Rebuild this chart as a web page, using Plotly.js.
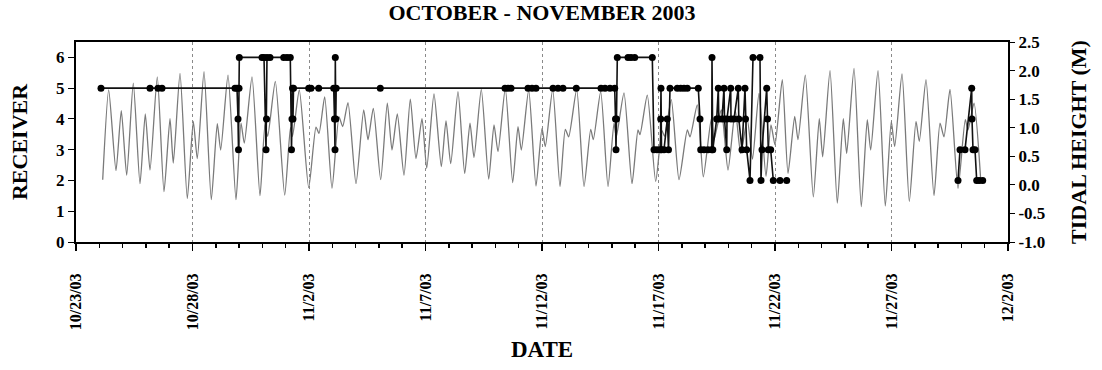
<!DOCTYPE html>
<html>
<head>
<meta charset="utf-8">
<script src="https://cdn.plot.ly/plotly-3.0.1.min.js"></script>
<style>html,body{margin:0;padding:0;background:#fff;}#chart{width:1102px;height:370px;}</style>
</head>
<body>
<div id="chart"></div>
<script>
// ---- DATA (days since 10/23/03 00:00) ----
const tideDay = [1.146,1.403,1.717,1.944,2.176,2.459,2.747,2.974,3.176,3.489,3.777,4.034,4.176,4.464,4.777,5.034,5.206,5.494,5.807,6.064,6.210,6.524,6.867,7.082,7.223,7.554,7.897,8.112,8.227,8.554,8.957,9.206,9.292,9.584,9.987,10.300,10.429,10.674,10.987,11.288,11.446,11.674,12.017,12.348,12.532,12.760,13.077,13.361,13.562,13.790,14.077,14.348,14.592,14.850,15.052,15.365,15.678,15.880,16.082,16.395,16.682,16.910,17.082,17.395,17.712,17.940,18.112,18.425,18.742,18.970,19.112,19.429,19.742,20.000,20.142,20.459,20.773,21.000,21.146,21.489,21.803,22.090,22.202,22.519,22.833,23.090,23.189,23.519,23.863,24.120,24.206,24.519,24.880,25.150,25.258,25.549,25.880,26.236,26.352,26.665,26.923,27.266,27.382,27.695,27.983,28.296,28.528,28.811,29.034,29.313,29.614,29.828,30.000,30.313,30.558,30.845,30.987,31.300,31.644,31.901,32.047,32.361,32.674,32.931,33.077,33.391,33.704,33.961,34.107,34.421,34.734,34.991,35.137,35.451,35.764,36.052,36.193,36.481,36.824,37.082,37.253,37.511,37.854,38.167,38.283,38.541,38.828];
const tideHeight = [0.09,1.66,0.25,1.30,0.17,1.78,0.02,1.24,0.26,1.89,-0.12,1.16,0.38,1.95,-0.24,1.11,0.46,1.98,-0.26,1.07,0.61,1.92,-0.26,1.08,0.73,1.89,-0.19,1.05,0.85,1.81,-0.18,1.00,0.85,1.66,-0.05,1.01,0.90,1.54,-0.06,1.19,1.02,1.44,0.02,1.31,0.79,1.34,0.09,1.43,0.61,1.24,0.17,1.50,0.46,1.16,0.29,1.59,0.32,1.12,0.37,1.63,0.20,1.08,0.48,1.67,0.10,1.05,0.58,1.69,0.04,1.02,0.61,1.66,-0.02,0.99,0.67,1.67,-0.03,0.97,0.84,1.67,-0.03,0.97,0.79,1.63,-0.03,1.08,0.84,1.61,0.02,0.96,0.88,1.57,0.06,0.95,0.85,1.49,0.09,0.96,0.84,1.40,0.14,1.16,0.79,1.31,0.26,1.30,0.55,1.14,0.45,1.60,0.15,1.05,0.70,1.84,0.20,1.20,0.79,1.92,-0.21,1.16,0.49,2.00,-0.32,1.16,0.55,2.04,-0.38,1.14,0.61,2.00,-0.37,1.11,0.67,1.94,-0.29,1.11,0.76,1.84,-0.19,1.08,0.84,1.67,-0.06,1.14,0.96,1.43,0.09];

const receiverDay = [1.073,3.176,3.519,3.691,6.824,6.910,6.953,6.974,6.996,7.009,7.983,8.069,8.155,8.176,8.197,8.326,8.914,9.056,9.197,9.249,9.270,9.292,9.313,9.335,9.987,10.086,10.416,11.060,11.094,11.116,11.129,11.150,11.167,13.060,18.412,18.541,18.670,19.399,19.571,19.742,20.472,20.687,20.901,21.472,22.532,22.704,22.918,23.120,23.155,23.176,23.197,23.232,23.691,23.820,23.979,24.734,24.807,24.936,25.086,25.094,25.107,25.129,25.236,25.378,25.429,25.494,25.807,25.953,26.094,26.236,26.708,26.781,26.811,26.953,27.124,27.283,27.296,27.330,27.498,27.567,27.588,27.725,27.811,27.833,27.927,27.940,28.099,28.112,28.240,28.425,28.446,28.584,28.712,28.734,28.785,28.927,29.056,29.356,29.399,29.442,29.644,29.678,29.712,29.815,29.927,30.215,30.502,34.000,37.854,37.940,38.155,38.442,38.455,38.498,38.584,38.657,38.768,38.914];
const receiverId = [5,5,5,5,5,5,4,3,5,6,6,6,3,4,6,6,6,6,6,3,4,5,4,5,5,5,5,5,4,3,6,4,5,5,5,5,5,5,5,5,5,5,5,5,5,5,5,5,4,3,4,6,6,6,6,6,3,3,3,4,5,3,3,4,3,5,5,5,5,5,5,4,3,3,3,3,6,3,4,5,4,4,5,4,3,4,5,4,4,5,4,3,5,4,3,2,6,6,2,3,5,4,3,3,2,2,2,null,2,3,3,5,4,3,3,2,2,2];

const tickDates = ['2003-10-23','2003-10-28','2003-11-02','2003-11-07','2003-11-12','2003-11-17','2003-11-22','2003-11-27','2003-12-02'];
const tickLabels = ['10/23/03','10/28/03','11/2/03','11/7/03','11/12/03','11/17/03','11/22/03','11/27/03','12/2/03'];
const tideTicks = [-1.0,-0.5,0.0,0.5,1.0,1.5,2.0,2.5];
const tideTickLabels = ['-1.0','-0.5','0.0','0.5','1.0','1.5','2.0','2.5'];
const receiverTicks = [0,1,2,3,4,5,6];

// ---- helpers ----
function dayToDate(d){
  const t = Date.UTC(2003,9,23) + d*86400000;
  return new Date(t).toISOString().slice(0,19).replace('T',' ');
}
const serif = 'Liberation Serif, Times New Roman, serif';

const tideTrace = {
  x: tideDay.map(dayToDate), y: tideHeight,
  type: 'scatter', mode: 'lines', yaxis: 'y',
  line: {color: '#7a7a7a', width: 1.3, shape: 'spline', smoothing: 0.6},
  hoverinfo: 'skip', showlegend: false
};
const recTrace = {
  x: receiverDay.map(dayToDate), y: receiverId,
  type: 'scatter', mode: 'lines+markers', yaxis: 'y2',
  connectgaps: false,
  line: {color: '#111', width: 1.6},
  marker: {color: '#000', size: 7, symbol: 'circle'},
  showlegend: false
};

const layout = {
  width: 1102, height: 370,
  paper_bgcolor: '#fff', plot_bgcolor: '#fff',
  margin: {l: 76, r: 94, t: 42, b: 128},
  showlegend: false,
  title: {text: 'OCTOBER - NOVEMBER 2003', font: {family: serif, size: 22, weight: 'bold', color: '#000'},
          x: 0.5, xref: 'paper', y: 0.966, yref: 'container', yanchor: 'middle'},
  xaxis: {
    type: 'date', range: ['2003-10-23', '2003-12-02'],
    tickmode: 'array', tickvals: tickDates, ticktext: tickLabels,
    tickangle: -90, ticks: 'outside', ticklen: 7, tickwidth: 1.5, tickcolor: '#000',
    ticklabelstandoff: 16,
    tickfont: {family: serif, size: 16, weight: 'bold', color: '#000'},
    showgrid: true, gridcolor: '#8a8a8a', griddash: 'dot', gridwidth: 1,
    showline: true, linecolor: '#000', linewidth: 2, mirror: true,
    minor: {tickmode: 'linear', tick0: '2003-10-23', dtick: 86400000, ticks: 'outside', ticklen: 4, tickcolor: '#000', showgrid: false},
    zeroline: false,
    title: {text: 'DATE', font: {family: serif, size: 23, weight: 'bold', color: '#000'}, standoff: 12}
  },
  yaxis: {
    side: 'right', range: [-1, 2.5],
    tickmode: 'array', tickvals: tideTicks, ticktext: tideTickLabels,
    ticks: 'outside', ticklen: 5, tickcolor: '#000',
    tickfont: {family: serif, size: 17, weight: 'bold', color: '#000'},
    showgrid: false, zeroline: false,
    showline: true, linecolor: '#000', linewidth: 2,
    title: {text: 'TIDAL HEIGHT (M)', font: {family: serif, size: 22, weight: 'bold', color: '#000'}, standoff: 26}
  },
  yaxis2: {
    overlaying: 'y', side: 'left', range: [0, 6.5],
    tickmode: 'array', tickvals: receiverTicks,
    ticks: 'outside', ticklen: 6, tickcolor: '#000',
    tickfont: {family: serif, size: 17, weight: 'bold', color: '#000'},
    showgrid: false, zeroline: false,
    showline: true, linecolor: '#000', linewidth: 2,
    title: {text: 'RECEIVER', font: {family: serif, size: 22, weight: 'bold', color: '#000'}, standoff: 22}
  }
};

Plotly.newPlot('chart', [tideTrace, recTrace], layout, {displayModeBar: false, staticPlot: true});
</script>
</body>
</html>
